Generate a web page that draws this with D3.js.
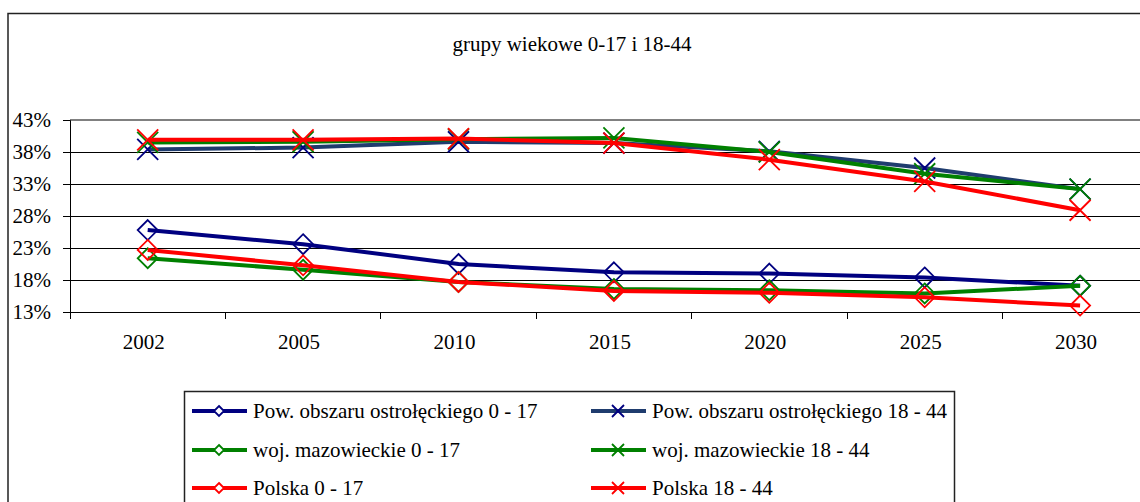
<!DOCTYPE html>
<html>
  <head>
    <meta charset="utf-8">
    <title>grupy wiekowe 0-17 i 18-44</title>
    <script src="https://d3js.org/d3.v7.min.js"></script>
    <style>
    body{margin:0; background:white;}
    svg{display:block;}
    text{font-family:"Liberation Serif","Times New Roman",serif; font-size:21px; fill:black;}
    </style>
  </head>
  <body>
    <script>
    // data
    var years = ["2002","2005","2010","2015","2020","2025","2030"];
    var yTicks = [13,18,23,28,33,38,43];
    var title = "grupy wiekowe 0-17 i 18-44";

    var pow017   = [25.8,23.6,20.5,19.2,19.0,18.4,17.1];
    var woj017   = [21.4,19.6,17.7,16.6,16.4,15.9,17.1];
    var pol017   = [22.7,20.3,17.7,16.3,16.0,15.3,14.0];
    var pow1844  = [38.4,38.7,39.6,39.4,38.1,35.5,32.2];
    var woj1844  = [39.5,39.6,40.0,40.2,38.0,34.6,32.2];
    var pol1844  = [39.9,39.9,40.1,39.4,36.8,33.4,28.9];

    var series = [
      {name:"Pow. obszaru ostrołęckiego 0 - 17", values:pow017, line:"#000080", mark:"#000080", shape:"diamond"},
      {name:"woj. mazowieckie 0 - 17", values:woj017, line:"#008000", mark:"#008000", shape:"diamond"},
      {name:"Polska 0 - 17", values:pol017, line:"#ff0000", mark:"#ff0000", shape:"diamond"},
      {name:"Pow. obszaru ostrołęckiego 18 - 44", values:pow1844, line:"#1f3c6e", mark:"#000080", shape:"x"},
      {name:"woj. mazowieckie 18 - 44", values:woj1844, line:"#008000", mark:"#008000", shape:"x"},
      {name:"Polska 18 - 44", values:pol1844, line:"#ff0000", mark:"#ff0000", shape:"x"}
    ];

    var width = 1140, height = 502;
    var svg = d3.select("body").append("svg").attr("width", width).attr("height", height);

    // outer frame (cut off at right and bottom)
    svg.append("rect").attr("x",8).attr("y",13.5).attr("width",1300).attr("height",700)
      .attr("fill","white").attr("stroke","#222").attr("stroke-width",1.5);

    // title
    svg.append("text").attr("x",572).attr("y",51).attr("text-anchor","middle").text(title);

    // scales
    var left = 70, bandW = 155.4;
    var x = d3.scaleBand().domain(years).range([left, left + bandW*years.length]);
    var y = d3.scaleLinear().domain([13,43]).range([312,120]);

    // gridlines
    svg.append("g").selectAll("line").data(yTicks).enter().append("line")
      .attr("x1",left).attr("x2",left + bandW*years.length)
      .attr("y1",function(d){return y(d);}).attr("y2",function(d){return y(d);})
      .attr("stroke",function(d){return d==43 ? "#808080" : "#000";})
      .attr("stroke-width",function(d){return d==43 ? 2 : 1;})
      .attr("shape-rendering","crispEdges");

    // y axis
    var yAxis = svg.append("g").attr("transform","translate("+left+",0)")
      .call(d3.axisLeft(y).tickValues(yTicks).tickSize(7).tickPadding(12).tickFormat(function(d){return d+"%";}));
    yAxis.select(".domain").attr("stroke","#000");
    yAxis.selectAll("text").attr("font-size",21).attr("font-family","Liberation Serif").attr("fill","#000");

    // x axis with ticks between categories
    var xAxisG = svg.append("g");
    xAxisG.append("line").attr("x1",left).attr("x2",left + bandW*years.length)
      .attr("y1",y(13)).attr("y2",y(13)).attr("stroke","#000").attr("shape-rendering","crispEdges");
    xAxisG.selectAll(".tk").data(d3.range(years.length+1)).enter().append("line")
      .attr("x1",function(i){return left + i*bandW;}).attr("x2",function(i){return left + i*bandW;})
      .attr("y1",y(13)).attr("y2",y(13)+7).attr("stroke","#000").attr("shape-rendering","crispEdges");
    xAxisG.selectAll("text").data(years).enter().append("text")
      .attr("x",function(d){return x(d)+x.bandwidth()/2 - 4;}).attr("y",349)
      .attr("text-anchor","middle").text(function(d){return d;});

    var cx = function(i){return x(years[i]) + x.bandwidth()/2;};

    function drawMarker(g, shape, color, r, fill){
      if(shape=="diamond"){
        g.append("path").attr("d","M0,"+(-r)+"L"+r+",0L0,"+r+"L"+(-r)+",0Z")
          .attr("fill",fill).attr("stroke",color).attr("stroke-width",1.8);
      } else {
        g.append("path").attr("d","M"+(-r)+","+(-r)+"L"+r+","+r+"M"+(-r)+","+r+"L"+r+","+(-r))
          .attr("fill","none").attr("stroke",color).attr("stroke-width",1.8);
      }
    }

    var lineGen = d3.line().x(function(d,i){return cx(i);}).y(function(d){return y(d);});

    series.forEach(function(s){
      svg.append("path").datum(s.values).attr("d",lineGen)
        .attr("fill","none").attr("stroke",s.line).attr("stroke-width",4).attr("stroke-linejoin","round");
      s.values.forEach(function(v,i){
        var g = svg.append("g").attr("transform","translate("+cx(i)+","+y(v)+")");
        drawMarker(g, s.shape, s.mark, s.shape=="diamond" ? 10 : 10.5, "none");
      });
    });

    // legend
    var leg = svg.append("g");
    leg.append("rect").attr("x",184.5).attr("y",391.5).attr("width",770).attr("height",200)
      .attr("fill","white").attr("stroke","#222").attr("stroke-width",1.5);
    var rowY = [411, 450, 488];
    var colX = [192, 591];
    series.forEach(function(s,k){
      var col = Math.floor(k/3), row = k%3;
      var gx = colX[col], gy = rowY[row];
      leg.append("line").attr("x1",gx).attr("x2",gx+55).attr("y1",gy).attr("y2",gy)
        .attr("stroke",s.line).attr("stroke-width",4);
      var g = leg.append("g").attr("transform","translate("+(gx+27)+","+gy+")");
      drawMarker(g, s.shape, s.mark, s.shape=="diamond" ? 5 : 6, "white");
      leg.append("text").attr("x",gx+61).attr("y",gy+7).text(s.name);
    });
    </script>
  </body>
</html>
